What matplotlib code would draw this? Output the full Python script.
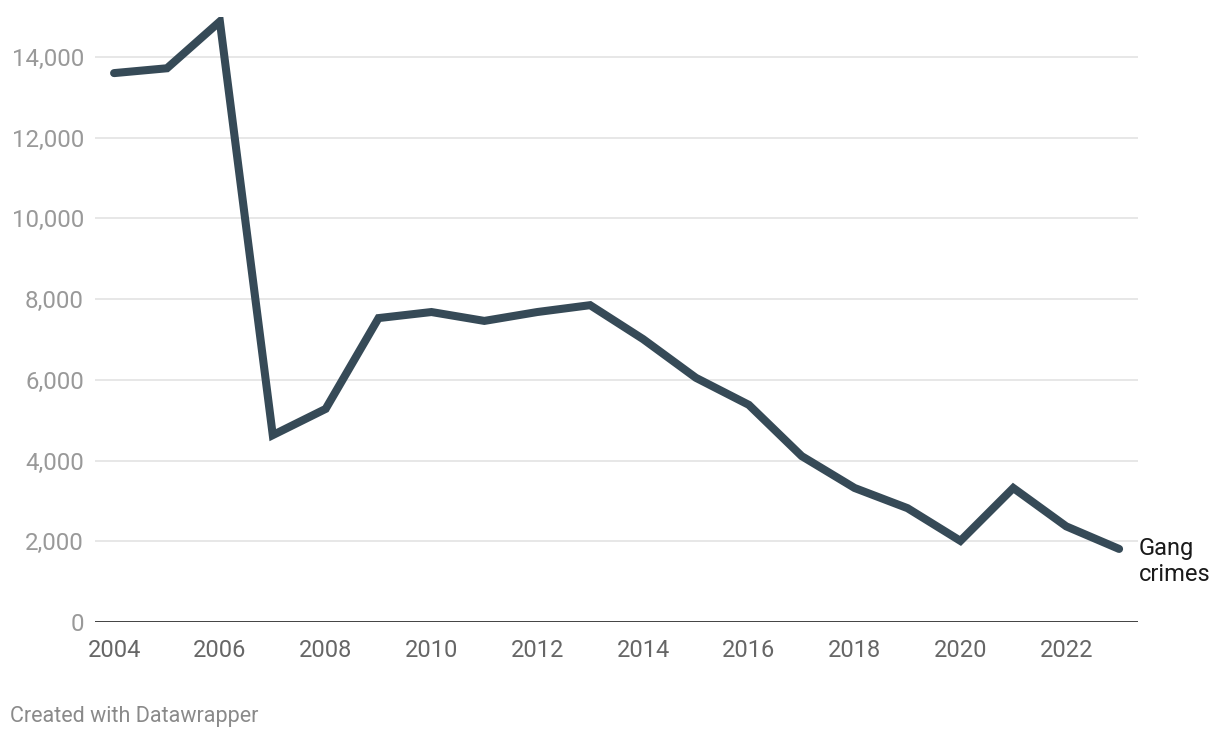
import matplotlib.pyplot as plt

plt.rcParams['font.family'] = ['Roboto', 'DejaVu Sans']

years = list(range(2004, 2024))
gang_crimes = [13600, 13720, 14880, 4630, 5280, 7530, 7680, 7460, 7680, 7850,
               7010, 6050, 5380, 4110, 3320, 2820, 2010, 3320, 2370, 1810]
y_ticks = [0, 2000, 4000, 6000, 8000, 10000, 12000, 14000]
x_ticks = list(range(2004, 2024, 2))

fig = plt.figure(figsize=(12.2, 7.38), dpi=100)
ax = fig.add_axes([0.0779, 0.1572, 0.855, 0.8203])

ax.plot(years, gang_crimes, color='#364a57', linewidth=5.8,
        solid_capstyle='round', solid_joinstyle='miter', zorder=3)

ax.set_xlim(2003.64, 2023.36)
ax.set_ylim(0, 15000)
ax.set_yticks(y_ticks)
ax.set_yticklabels([f"{v:,}" for v in y_ticks])
ax.set_xticks(x_ticks)
ax.set_xticklabels([str(x) for x in x_ticks])

ax.grid(axis='y', color='#e3e3e3', linewidth=1.2, zorder=0)
ax.axhline(0, color='#111111', linewidth=1.8, zorder=4)

for s in ax.spines.values():
    s.set_visible(False)
ax.tick_params(axis='both', length=0)
ax.tick_params(axis='y', labelsize=17.3, labelcolor='#999999', pad=8)
ax.tick_params(axis='x', labelsize=17, labelcolor='#666666', pad=12)

# series label beside the last point
ax.text(2023.37, gang_crimes[-1] + 300, "Gang\ncrimes", fontsize=17,
        color='#1a1a1a', ha='left', va='top', linespacing=1.2, clip_on=False)

fig.text(0.008, 0.015, "Created with Datawrapper", fontsize=15.5, color='#8a8a8a',
         ha='left', va='bottom')

fig.savefig('out.png', dpi=100, facecolor='white')
